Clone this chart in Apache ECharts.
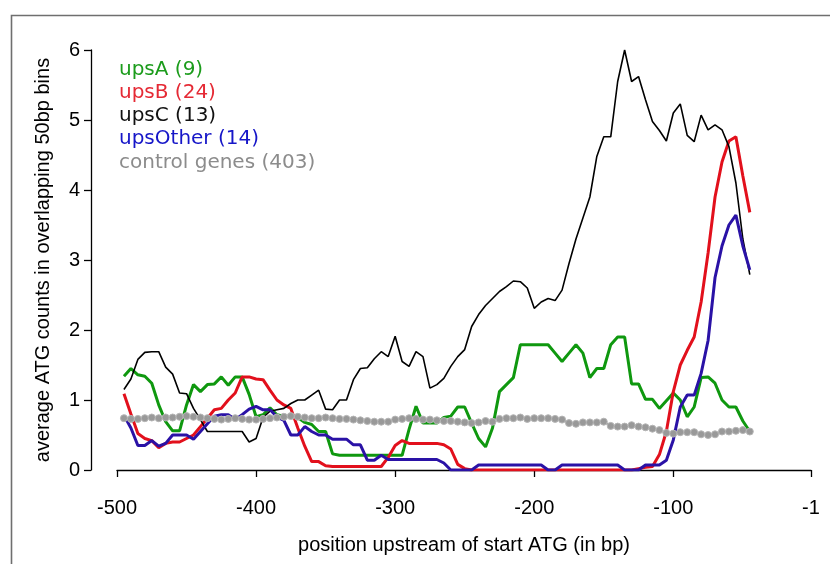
<!DOCTYPE html>
<html>
<head>
<meta charset="utf-8">
<script src="https://cdn.jsdelivr.net/npm/echarts@6/dist/echarts.min.js"></script>
<style>html,body{margin:0;padding:0;background:#fff}#c{width:830px;height:564px}</style>
</head>
<body>
<div id="c"></div>
<script>
// x positions (bp upstream of start ATG)
const positions = [-495,-490,-485,-480,-475,-470,-465,-460,-455,-450,
-445,-440,-435,-430,-425,-420,-415,-410,-405,-400,
-395,-390,-385,-380,-375,-370,-365,-360,-355,-350,
-345,-340,-335,-330,-325,-320,-315,-310,-305,-300,
-295,-290,-285,-280,-275,-270,-265,-260,-255,-250,
-245,-240,-235,-230,-225,-220,-215,-210,-205,-200,
-195,-190,-185,-180,-175,-170,-165,-160,-155,-150,
-145,-140,-135,-130,-125,-120,-115,-110,-105,-100,
-95,-90,-85,-80,-75,-70,-65,-60,-55,-50,
-45];

const seriesNames = ['upsA (9)', 'upsB (24)', 'upsC (13)', 'upsOther (14)', 'control genes (403)'];

const upsA = [1.34,1.45,1.36,1.34,1.24,0.93,0.69,0.56,0.56,0.93,
1.22,1.12,1.22,1.23,1.33,1.21,1.33,1.33,1.08,0.76,
0.79,0.89,0.79,0.77,0.76,0.75,0.68,0.65,0.55,0.55,
0.23,0.21,0.21,0.21,0.21,0.21,0.21,0.21,0.21,0.21,
0.21,0.58,0.91,0.67,0.67,0.67,0.75,0.77,0.9,0.9,
0.67,0.45,0.33,0.6,1.12,1.22,1.32,1.79,1.79,1.79,
1.79,1.79,1.67,1.55,1.67,1.79,1.67,1.32,1.45,1.45,
1.79,1.9,1.9,1.23,1.23,1.01,1.01,0.88,0.99,1.1,
1.0,0.76,0.9,1.32,1.33,1.24,1.0,0.9,0.9,0.7,
0.55];

const upsB = [1.09,0.80,0.52,0.45,0.42,0.32,0.38,0.40,0.40,0.45,
0.50,0.62,0.74,0.86,0.88,1.0,1.1,1.33,1.33,1.30,
1.29,1.14,1.0,0.93,0.88,0.6,0.34,0.12,0.12,0.06,
0.05,0.05,0.05,0.05,0.05,0.05,0.05,0.05,0.18,0.35,
0.42,0.38,0.38,0.38,0.38,0.38,0.36,0.30,0.08,0.02,
0,0,0,0,0,0,0,0,0,0,
0,0,0,0,0,0,0,0,0,0,
0,0,0,0,0.02,0.04,0.05,0.22,0.55,1.12,
1.5,1.71,1.9,2.4,3.1,3.9,4.4,4.7,4.76,4.2,
3.68];

const upsC = [1.15,1.30,1.58,1.68,1.69,1.69,1.47,1.37,1.10,1.09,
0.88,0.72,0.55,0.55,0.55,0.55,0.55,0.55,0.40,0.45,
0.75,0.84,0.86,0.88,0.95,1.0,1.0,1.07,1.14,0.87,
0.86,1.0,1.0,1.29,1.45,1.46,1.59,1.69,1.62,1.91,
1.55,1.48,1.69,1.62,1.17,1.22,1.31,1.48,1.62,1.72,
2.05,2.22,2.35,2.45,2.55,2.62,2.70,2.69,2.6,2.31,
2.4,2.45,2.42,2.57,2.95,3.3,3.6,3.9,4.48,4.76,
4.76,5.55,6.0,5.55,5.62,5.29,4.98,4.85,4.7,5.1,
5.23,4.78,4.69,5.07,4.86,4.93,4.86,4.62,4.1,3.3,
2.79];

const upsOther = [0.78,0.6,0.35,0.35,0.42,0.34,0.38,0.5,0.5,0.5,
0.44,0.55,0.66,0.77,0.79,0.79,0.72,0.79,0.87,0.91,
0.86,0.86,0.76,0.71,0.5,0.5,0.62,0.55,0.5,0.5,
0.44,0.44,0.44,0.36,0.36,0.14,0.14,0.21,0.15,0.15,
0.15,0.15,0.15,0.15,0.15,0.15,0.10,0,0,0,
0,0.07,0.07,0.07,0.07,0.07,0.07,0.07,0.07,0.07,
0.07,0,0,0.07,0.07,0.07,0.07,0.07,0.07,0.07,
0.07,0.07,0,0,0,0.07,0.07,0.07,0.14,0.43,
0.9,1.07,1.07,1.38,1.85,2.75,3.2,3.5,3.64,3.2,
2.86];

const controlGenes = [0.74,0.73,0.73,0.74,0.75,0.74,0.75,0.75,0.76,0.77,
0.76,0.75,0.74,0.73,0.72,0.73,0.74,0.73,0.72,0.72,
0.73,0.74,0.75,0.76,0.77,0.76,0.75,0.74,0.74,0.75,
0.74,0.73,0.73,0.72,0.71,0.70,0.69,0.69,0.69,0.72,
0.73,0.74,0.73,0.72,0.72,0.71,0.70,0.70,0.69,0.68,
0.67,0.68,0.70,0.69,0.73,0.74,0.74,0.75,0.73,0.74,
0.74,0.74,0.73,0.72,0.67,0.66,0.68,0.68,0.68,0.69,
0.63,0.62,0.62,0.64,0.62,0.61,0.59,0.57,0.53,0.52,
0.54,0.54,0.54,0.51,0.50,0.51,0.55,0.55,0.56,0.57,
0.55];

const xTitle = 'position upstream of start ATG (in bp)';
const yTitle = 'average ATG counts in overlapping 50bp bins';

const lineColors = ['#0f980f', '#e2101c', '#000000', '#2a12a6', '#999999'];
const legendColors = ['#1c9c1c', '#e52a35', '#111111', '#1616c8', '#8c8c8c'];

const pair = arr => positions.map((x, i) => [x, arr[i]]);
const allData = [upsA, upsB, upsC, upsOther, controlGenes];
const FONT = "'Liberation Sans', Arial, sans-serif";

const series = allData.map((arr, k) => {
  const s = {
    name: seriesNames[k],
    type: 'line',
    data: pair(arr),
    symbol: 'none',
    lineStyle: { color: lineColors[k], width: k === 2 ? 1.6 : 3 },
    itemStyle: { color: lineColors[k] },
    z: 2 + k
  };
  if (k === 4) {
    s.symbol = 'circle';
    s.symbolSize = 7;
    s.showAllSymbol = true;
    s.lineStyle = { color: '#a0a0a0', width: 2 };
    s.itemStyle = { color: '#999999', borderColor: '#b5b5b5', borderWidth: 1 };
  }
  return s;
});

const chart = echarts.init(document.getElementById('c'), null, { renderer: 'canvas' });
chart.setOption({
  animation: false,
  backgroundColor: '#ffffff',
  textStyle: { fontFamily: FONT },
  grid: { left: 117, right: 19, top: 50, bottom: 94, containLabel: false },
  graphic: [{
    type: 'rect', left: 9, top: 13, z: -10, silent: true,
    shape: { x: 0, y: 0, width: 900, height: 700 },
    style: { fill: null, stroke: '#6f6f6f', lineWidth: 1.6 }
  }],
  legend: {
    orient: 'vertical', left: 113, top: 60, padding: 0,
    itemWidth: 0, itemHeight: 20, itemGap: 3,
    icon: 'rect', selectedMode: false,
    itemStyle: { opacity: 0 },
    textStyle: { fontSize: 20, fontFamily: "'DejaVu Sans', sans-serif" },
    data: seriesNames.map((n, k) => ({ name: n, textStyle: { color: legendColors[k] } }))
  },
  xAxis: {
    type: 'value', min: -500, max: -1, interval: 100, offset: 18,
    axisLine: { show: true, lineStyle: { color: '#000', width: 1.3 } },
    axisTick: { show: true, length: 7, lineStyle: { color: '#000', width: 1.3 } },
    axisLabel: { fontSize: 20, color: '#000', margin: 10, fontFamily: FONT, showMaxLabel: true, showMinLabel: true },
    splitLine: { show: false },
    name: xTitle, nameLocation: 'middle', nameGap: 47,
    nameTextStyle: { fontSize: 20, color: '#000', fontFamily: FONT }
  },
  yAxis: {
    type: 'value', min: 0, max: 6, interval: 1, offset: 26,
    axisLine: { show: true, lineStyle: { color: '#000', width: 1.3 } },
    axisTick: { show: true, length: 7, lineStyle: { color: '#000', width: 1.3 } },
    axisLabel: { fontSize: 20, color: '#000', margin: 11, fontFamily: FONT },
    splitLine: { show: false },
    name: yTitle, nameLocation: 'middle', nameGap: 38, nameRotate: 90,
    nameTextStyle: { fontSize: 20, color: '#000', fontFamily: FONT }
  },
  series: series
});
</script>
</body>
</html>
